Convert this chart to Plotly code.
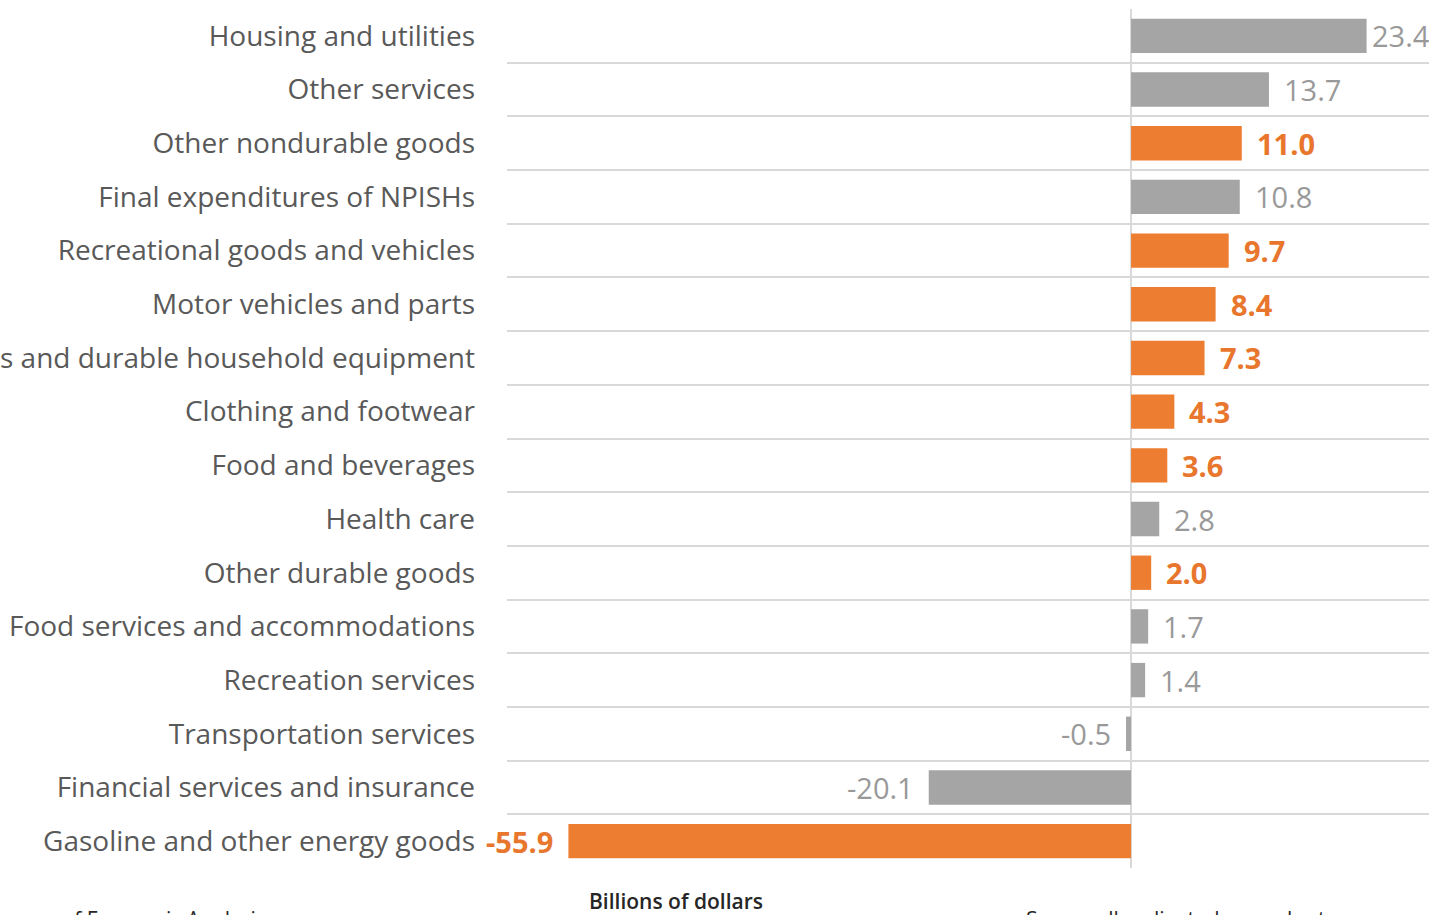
import plotly.graph_objects as go

# Change in real personal consumption expenditures by type of product
categories = [
    "Housing and utilities",
    "Other services",
    "Other nondurable goods",
    "Final expenditures of NPISHs",
    "Recreational goods and vehicles",
    "Motor vehicles and parts",
    "Furnishings and durable household equipment",
    "Clothing and footwear",
    "Food and beverages",
    "Health care",
    "Other durable goods",
    "Food services and accommodations",
    "Recreation services",
    "Transportation services",
    "Financial services and insurance",
    "Gasoline and other energy goods",
]
values = [23.4, 13.7, 11.0, 10.8, 9.7, 8.4, 7.3, 4.3, 3.6, 2.8, 2.0, 1.7, 1.4, -0.5, -20.1, -55.9]
is_goods = [False, False, True, False, True, True, True, True, True, False, True, False, False, False, False, True]

ORANGE = "#ED7D31"
GRAY = "#A5A5A5"
ORANGE_TXT = "#E8762D"
GRAY_TXT = "#999999"
TICK_TXT = "#595959"

positions = list(range(len(categories)))
bar_colors = [ORANGE if g else GRAY for g in is_goods]

fig = go.Figure(
    go.Bar(
        x=values,
        y=positions,
        orientation="h",
        marker=dict(color=bar_colors, line=dict(width=0)),
        width=0.64,
        hoverinfo="skip",
    )
)

x_min, x_max = -62.0, 29.6

# Value labels next to each bar
for pos, val, goods in zip(positions, values, is_goods):
    near_edge = val > 0 and val > x_max - 7
    shift = 3 if near_edge else 13
    fig.add_annotation(
        x=val,
        y=pos,
        xref="x",
        yref="y",
        text=f"<b>{val:.1f}</b>" if goods else f"{val:.1f}",
        showarrow=False,
        xanchor="left" if val >= 0 else "right",
        yanchor="middle",
        xshift=shift if val >= 0 else -shift,
        font=dict(family="Open Sans", size=29, color=ORANGE_TXT if goods else GRAY_TXT),
    )

# Footer texts
fig.add_annotation(
    text="Billions of dollars",
    xref="paper", yref="paper",
    x=0.183, y=-0.0385,
    xanchor="center", yanchor="middle",
    showarrow=False,
    font=dict(family="Open Sans", size=21, color="#262626", weight=600),
)
fig.add_annotation(
    text="Source: U.S. Bureau of Economic Analysis",
    xref="paper", yref="paper",
    x=-0.259, y=-0.041,
    xanchor="right", yanchor="top",
    showarrow=False,
    font=dict(family="Open Sans", size=21, color="#262626"),
)
fig.add_annotation(
    text="Seasonally adjusted annual rates",
    xref="paper", yref="paper",
    x=0.561, y=-0.041,
    xanchor="left", yanchor="top",
    showarrow=False,
    font=dict(family="Open Sans", size=21, color="#262626"),
)

fig.update_layout(
    width=1429,
    height=915,
    margin=dict(l=507, r=0, t=9, b=47),
    paper_bgcolor="white",
    plot_bgcolor="white",
    showlegend=False,
    bargap=0.36,
    xaxis=dict(
        range=[x_min, x_max],
        showgrid=False,
        showticklabels=False,
        zeroline=True,
        zerolinecolor="#D9D9D9",
        zerolinewidth=1.5,
        fixedrange=True,
    ),
    yaxis=dict(
        range=[len(categories) - 0.5, -0.5],
        tickmode="array",
        tickvals=positions,
        ticktext=categories,
        showgrid=False,
        zeroline=False,
        ticks="",
        ticklabelstandoff=31,
        tickfont=dict(family="Open Sans", size=28, color=TICK_TXT),
        automargin=False,
        minor=dict(
            tickmode="array",
            tickvals=[p - 0.5 for p in positions] + [len(categories) - 0.5],
            showgrid=True,
            gridcolor="#D9D9D9",
            gridwidth=2,
            ticks="",
        ),
    ),
)

fig.write_html("out.html")
